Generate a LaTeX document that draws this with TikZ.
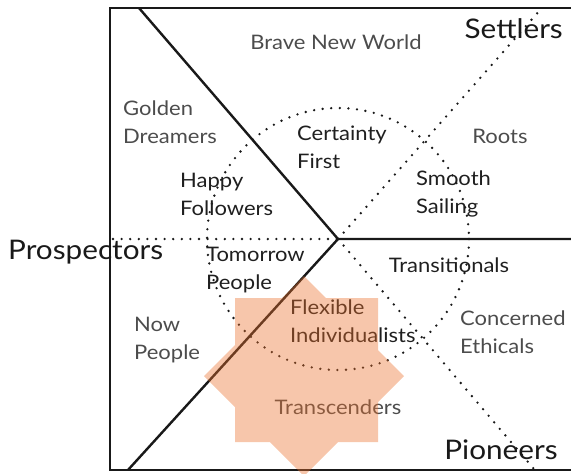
\documentclass[tikz,border=0pt]{standalone}
\usepackage{fontspec}
\setmainfont{Lato}[FakeStretch=1.1]
\begin{document}
\begin{tikzpicture}[x=1pt,y=-1pt,
  frame/.style={line width=2.4pt,draw=black!90},
  dotline/.style={line width=2.6pt,line cap=round,dash pattern=on 0pt off 8.6pt,draw=black!90},
  light/.style={text=black!70,font=\fontsize{20}{28}\selectfont,align=left,inner sep=0pt},
  dark/.style={text=black!88,font=\fontsize{20}{28}\selectfont,align=left,inner sep=0pt},
  big/.style={text=black!90,font=\fontsize{27}{30}\selectfont,inner sep=0pt},
  starfill/.style={fill={rgb,255:red,235;green,113;blue,45},fill opacity=0.4,draw=none}]
\useasboundingbox (0,0) rectangle (571,474);
% frame
\coordinate (tr) at (571,8);
\coordinate (tl) at (110,8);
\coordinate (bl) at (110,470);
\coordinate (br) at (571,470);
\draw[frame] (tr) -- (tl) -- (bl) -- (br);
% center and rays
\coordinate (c) at (338,239);
\coordinate (topend) at (139,8);
\coordinate (rightend) at (571,239);
\coordinate (llend) at (128,470);
\coordinate (leftend) at (113,239);
\coordinate (urend) at (541,9);
\coordinate (lrend) at (534,469);
\draw[frame] (topend) -- (c) -- (rightend);
\draw[frame] (c) -- (llend);
\draw[dotline] (leftend) -- (c);
\draw[dotline] (c) -- (urend);
\draw[dotline] (c) -- (lrend);
\draw[dotline] (c) circle[radius=131];
% labels
\node[light] (bnw) at (336,42) {Brave New World};
\node[big,anchor=east] (settlers) at (563,29) {Settlers};
\node[light,anchor=west] (golden) at (123,122) {Golden\\Dreamers};
\node[dark,anchor=west] (certainty) at (297,147) {Certainty\\First};
\node[light] (roots) at (500,136) {Roots};
\node[dark,anchor=west] (happy) at (180,194) {Happy\\Followers};
\node[dark,anchor=west] (smooth) at (416,194) {Smooth\\Sailing};
\node[big,anchor=west] (prosp) at (8,252) {Prospectors};
\node[dark,anchor=west] (tomorrow) at (206,270) {Tomorrow\\People};
\node[dark] (trans) at (449,265) {Transitionals};
\node[dark,anchor=west] (flex) at (290,321) {Flexible\\Individualists};
\node[light,anchor=west] (now) at (134,340) {Now\\People};
\node[light,anchor=west] (concerned) at (460,332) {Concerned\\Ethicals};
\node[light] (transc) at (338,407) {Transcenders};
\node[big] (pioneers) at (501,450) {Pioneers};
% star (eight-pointed, drawn over the lines with transparency)
\path[starfill] (304,276) -- (326,298) -- (378,298) -- (378,350) -- (404,376)
  -- (378,402) -- (378,442) -- (338,442) -- (304,476) -- (270,442) -- (235,442)
  -- (235,407) -- (204,376) -- (235,345) -- (235,298) -- (282,298) -- cycle;
\end{tikzpicture}
\end{document}
